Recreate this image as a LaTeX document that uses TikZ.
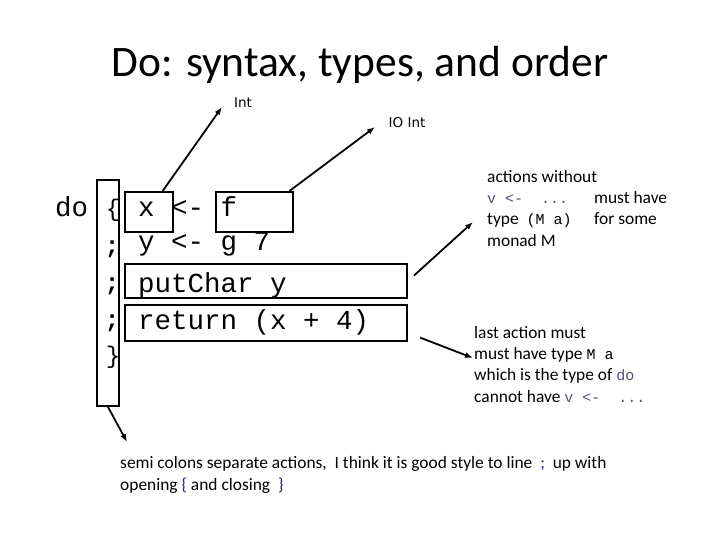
\documentclass[tikz,border=0pt]{standalone}
\usepackage{fontspec}
\setmainfont{Carlito}
\setmonofont{Liberation Mono}
\newfontfamily\lblfont{DejaVu Sans}
\usetikzlibrary{arrows.meta,positioning,calc}
\definecolor{codegrey}{RGB}{75,85,115}
\definecolor{bracenavy}{RGB}{30,30,140}
\newcommand{\cd}[1]{{\ttfamily\fontsize{15}{17}\selectfont #1}}
\newcommand{\greycd}[1]{{\color{codegrey}\cd{#1}}}

\begin{document}
\begin{tikzpicture}[x=1pt,y=-1pt,>={Latex[length=8pt,width=6pt]},
 code/.style={anchor=base west,inner sep=0pt,font=\ttfamily\fontsize{27.5}{30}\selectfont},
 semi/.style={inner sep=0pt,font=\ttfamily\bfseries\fontsize{24}{28}\selectfont},
 box/.style={draw,line width=2pt,inner sep=0pt},
 note/.style={anchor=north west,align=left,inner sep=0pt,font=\fontsize{17.4}{21.3}\selectfont},
 lbl/.style={inner sep=0pt,font=\lblfont\fontsize{13.5}{15}\selectfont},
 a/.style={->,line width=1.8pt}]
\useasboundingbox (0,0) rectangle (720,540);
\node[font=\fontsize{43.5}{48}\selectfont] (title) at (360,65) {Do: syntax, types, and order};
% the do block
\node[box,minimum width=22pt,minimum height=226pt] (tall) at (108,293) {};
\node[code] (do) at (55,217) {do};
\node[inner sep=0pt,font=\ttfamily\fontsize{24}{28}\selectfont] (open) at (113,210) {\{};
\node[semi] (s1) at (112,249) {;};
\node[semi] (s2) at (112,286) {;};
\node[semi] (s3) at (112,323) {;};
\node[inner sep=0pt,font=\ttfamily\fontsize{24}{28}\selectfont] (close) at (113,357) {\}};
% the statements
\node[box,minimum width=48pt,minimum height=40pt] (xbox) at (149,212) {};
\node[box,minimum width=77pt,minimum height=40pt] (fbox) at (254.5,212) {};
\node[box,minimum width=282pt,minimum height=34pt] (putbox) at (266,281) {};
\node[box,minimum width=282pt,minimum height=36pt] (retbox) at (266,323) {};
\node[code] (l1) at (138,217) {x <- f};
\node[code] (l2) at (138,250) {y <- g 7};
\node[code] (l3) at (138,292) {putChar y};
\node[code] (l4) at (138,329) {return (x + 4)};
% labels and notes
\node[lbl] (int) at (243,103) {Int};
\node[lbl] (ioint) at (407,123) {IO Int};
\node[note] (act) at (487,170) {actions without\\
 \makebox[107pt][l]{\greycd{v <-\ \ ...}}must have\\
 \makebox[107pt][l]{type\ \ \cd{(M a)}}for some\\
 monad M};
\node[note] (last) at (474,326) {last action must\\
 must have type \cd{M a}\\
 which is the type of \greycd{do}\\
 cannot have \greycd{v <-\ \ ...}};
\node[note,font=\fontsize{17.4}{22}\selectfont] (semitxt) at (120,456) {semi colons separate actions,\ \ I think it is good style to line \ {\color{bracenavy};}\ \ up with\\
 opening {\color{bracenavy}\{} and closing \ {\color{bracenavy}\}}};
\coordinate (intend) at (222,107);
\coordinate (ioend) at (375,127);
\coordinate (actend) at (473,222);
\coordinate (lastend) at (473,358);
\coordinate (semiend) at (127,442);
\draw[a] (xbox.57) -- (intend);
\draw[a] (fbox.31) -- (ioend);
\draw[a,shorten <=8pt] (putbox.east) -- (actend);
\draw[a,shorten <=13pt] (retbox.-4) -- (lastend);
\draw[a] (tall.south) -- (semiend);
\end{tikzpicture}
\end{document}
